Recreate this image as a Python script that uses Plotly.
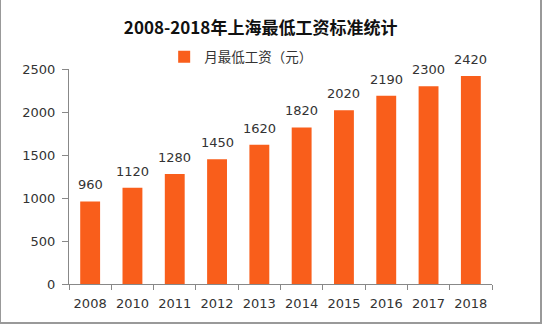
import plotly.graph_objects as go

years = ["2008", "2010", "2011", "2012", "2013", "2014", "2015", "2016", "2017", "2018"]
wages = [960, 1120, 1280, 1450, 1620, 1820, 2020, 2190, 2300, 2420]
y_ticks = [0, 500, 1000, 1500, 2000, 2500]

bar_color = "#F95E1B"
text_color = "#333333"

fig = go.Figure()
fig.add_trace(go.Bar(
    x=years, y=wages, name="月最低工资（元）",
    marker=dict(color=bar_color, line=dict(width=0)),
))

for i, v in enumerate(wages):
    fig.add_annotation(x=i, y=v, text=str(v), showarrow=False,
                       yanchor="bottom", yshift=7,
                       font=dict(family="DejaVu Sans", size=13, color=text_color))

fig.update_layout(
    width=543, height=325,
    margin=dict(l=69, r=51, t=69, b=41),
    paper_bgcolor="white", plot_bgcolor="white",
    bargap=0.53,
    title=dict(text="<b>2008-2018年上海最低工资标准统计</b>",
               font=dict(family="Noto Sans CJK SC", size=17, color="#111111"),
               x=0.48, xanchor="center", y=0.915, yanchor="middle"),
    showlegend=True,
    legend=dict(orientation="h", x=0.225, xanchor="left", y=1.056, yanchor="middle",
                font=dict(family="Noto Sans CJK SC", size=13.5, color=text_color),
                itemwidth=30, bgcolor="rgba(0,0,0,0)"),
    xaxis=dict(type="category", categoryorder="array", categoryarray=years,
               range=[-0.5, len(years) - 0.5],
               showline=True, linecolor="#888888", linewidth=1,
               ticks="outside", tickson="boundaries", ticklen=5, tickcolor="#888888",
               ticklabelstandoff=7,
               tickfont=dict(family="DejaVu Sans", size=13, color=text_color),
               showgrid=False),
    yaxis=dict(range=[0, 2500], tickvals=y_ticks, showline=True, linecolor="#888888",
               linewidth=1, ticks="outside", ticklen=6, tickcolor="#888888",
               ticklabelstandoff=4,
               tickfont=dict(family="DejaVu Sans", size=13, color=text_color),
               showgrid=False, zeroline=False),
    shapes=[dict(type="rect", xref="paper", yref="paper", x0=-69/423, x1=1+49/423,
                 y0=-39/215, y1=1+70/215, line=dict(color="#999999", width=2),
                 fillcolor="rgba(0,0,0,0)")],
)

fig.write_html("out.html")
